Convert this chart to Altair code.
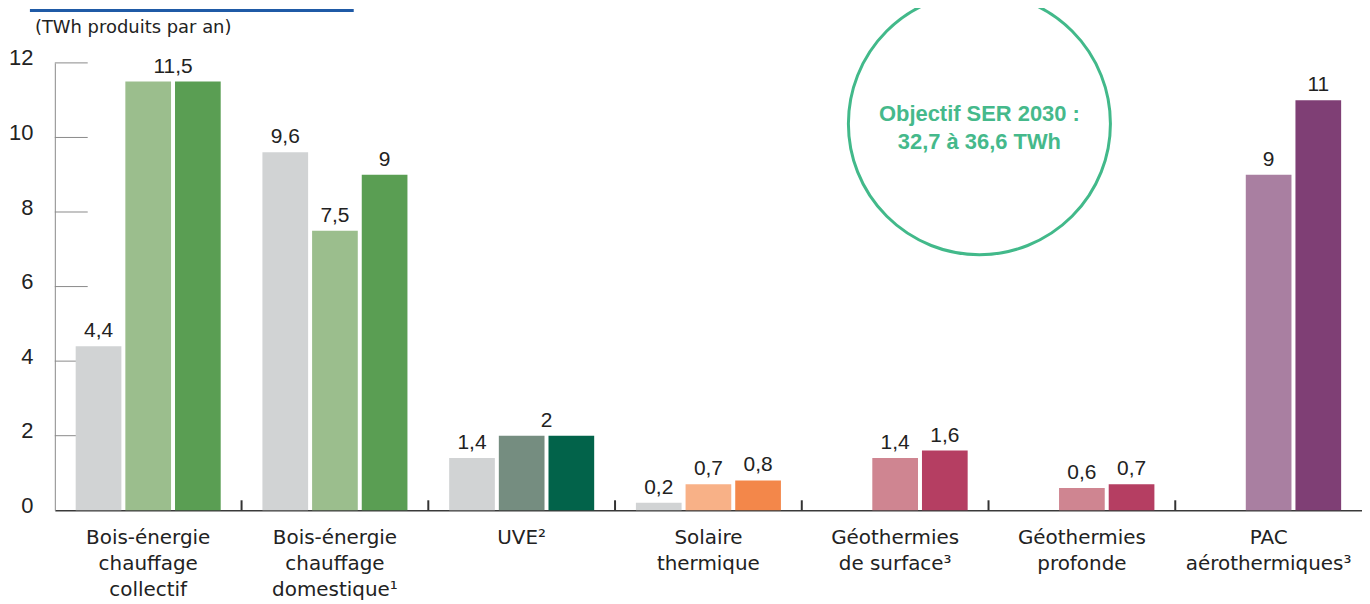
import altair as alt
import pandas as pd

# ---------------- data ----------------
categories = ["Bois collectif", "Bois domestique", "UVE", "Solaire thermique",
              "Géothermies de surface", "Géothermies profonde", "PAC aérothermiques"]
cat_labels = ["Bois-énergie\nchauffage\ncollectif", "Bois-énergie\nchauffage\ndomestique¹",
              "UVE²", "Solaire\nthermique", "Géothermies\nde surface³",
              "Géothermies\nprofonde", "PAC\naérothermiques³"]
series = ["actuel", "bas", "haut"]
v_actuel = [4.4, 9.6, 1.4, 0.2, None, None, None]
v_bas = [11.5, 7.5, 2, 0.7, 1.4, 0.6, 9]
v_haut = [11.5, 9, 2, 0.8, 1.6, 0.7, 11]
y_ticks = [0, 2, 4, 6, 8, 10, 12]
subtitle = "(TWh produits par an)"
objectif = "Objectif SER 2030 :\n32,7 à 36,6 TWh"

# ---------------- styles ----------------
grey = "#d1d3d4"
col_bas = ["#9bbe8d", "#9bbe8d", "#758d80", "#f8b187", "#cf8591", "#cf8591", "#a97fa1"]
col_haut = ["#5a9e53", "#5a9e53", "#02634a", "#f3874a", "#b53e62", "#b53e62", "#7f3f75"]
W, H = 1312, 449
NUM_FONT = "Liberation Sans"
TXT_FONT = "DejaVu Sans"


def fmt(v):
    return f"{v:g}".replace(".", ",")


rows, single_labels, merged_labels = [], [], []
color_domain, color_range = [], []
for i, c in enumerate(categories):
    vals = {"actuel": v_actuel[i], "bas": v_bas[i], "haut": v_haut[i]}
    cols = {"actuel": grey, "bas": col_bas[i], "haut": col_haut[i]}
    for s in series:
        v = vals[s]
        if v is None:
            continue
        key = f"{c}|{s}"
        rows.append({"cat": c, "series": s, "value": v, "key": key})
        color_domain.append(key)
        color_range.append(cols[s])
    if vals["actuel"] is not None:
        single_labels.append({"cat": c, "series": "actuel", "value": vals["actuel"], "txt": fmt(vals["actuel"])})
    if vals["bas"] == vals["haut"]:
        merged_labels.append({"cat": c, "value": vals["bas"], "txt": fmt(vals["bas"])})
    else:
        for s in ["bas", "haut"]:
            single_labels.append({"cat": c, "series": s, "value": vals[s], "txt": fmt(vals[s])})

df = pd.DataFrame(rows)
df_single = pd.DataFrame(single_labels)
df_merged = pd.DataFrame(merged_labels)
df_cats = pd.DataFrame({"cat": categories, "label": cat_labels})
df_sep = pd.DataFrame({"cat": categories[1:]})
df_yt = pd.DataFrame({"v": y_ticks[1:]})
df_one = pd.DataFrame({"t": [subtitle]})
df_obj = pd.DataFrame({"t": [objectif]})

x_enc = alt.X("cat:N", sort=categories,
              scale=alt.Scale(domain=categories, paddingInner=0, paddingOuter=0),
              axis=alt.Axis(labels=False, ticks=False, title=None, domainColor="#3a3a3a",
                            domainWidth=1.6, grid=False))
xo_enc = alt.XOffset("series:N", scale=alt.Scale(domain=series, paddingInner=0.08, paddingOuter=0.42))
y_scale = alt.Scale(domain=[0, 12], nice=False)

bars = alt.Chart(df).mark_bar().encode(
    x=x_enc,
    xOffset=xo_enc,
    y=alt.Y("value:Q", scale=y_scale,
            axis=alt.Axis(values=y_ticks, title=None, ticks=False, grid=False,
                          domainColor="#8a8a8a", domainWidth=1,
                          labelFont=NUM_FONT, labelFontSize=22, labelColor="#222222",
                          labelPadding=22, labelOffset=-5)),
    color=alt.Color("key:N", scale=alt.Scale(domain=color_domain, range=color_range), legend=None),
)

lab_single = alt.Chart(df_single).mark_text(
    font=NUM_FONT, fontSize=21, color="#222222", baseline="alphabetic", dy=-9
).encode(x=alt.X("cat:N", sort=categories), xOffset="series:N",
         y=alt.Y("value:Q", scale=y_scale), text="txt:N")

lab_merged = alt.Chart(df_merged).mark_text(
    font=NUM_FONT, fontSize=21, color="#222222", baseline="alphabetic", dy=-9, dx=25
).encode(x=alt.X("cat:N", sort=categories), y=alt.Y("value:Q", scale=y_scale), text="txt:N")

cat_text = alt.Chart(df_cats).mark_text(
    font=TXT_FONT, fontSize=20, color="#222222", baseline="top", lineBreak="\n", lineHeight=26
).encode(x=alt.X("cat:N", sort=categories), y=alt.value(H + 18), text="label:N")

seps = alt.Chart(df_sep).mark_rule(color="#333333", strokeWidth=2).encode(
    x=alt.X("cat:N", sort=categories, bandPosition=0), y=alt.value(H - 10), y2=alt.value(H))

yticks = alt.Chart(df_yt).mark_rule(color="#8a8a8a", strokeWidth=1).encode(
    y=alt.Y("v:Q", scale=y_scale), x=alt.value(0), x2=alt.value(33))

sub = alt.Chart(df_one).mark_text(
    font=TXT_FONT, fontSize=18, color="#222222", align="left", baseline="alphabetic"
).encode(x=alt.value(-20), y=alt.value(-30), text="t:N")

blue = alt.Chart(df_one).mark_rule(color="#1f5aa6", strokeWidth=3).encode(
    x=alt.value(-25), x2=alt.value(300), y=alt.value(-52.5))

circle = alt.Chart(df_obj).mark_point(
    shape="circle", filled=False, size=263 * 263, strokeWidth=3, color="#42b98a", opacity=1
).encode(x=alt.value(928), y=alt.value(61))

obj_text = alt.Chart(df_obj).mark_text(
    font=NUM_FONT, fontSize=22, fontWeight="bold", color="#45b98b",
    baseline="middle", lineBreak="\n", lineHeight=28
).encode(x=alt.value(928), y=alt.value(51), text="t:N")

chart = alt.layer(
    yticks, bars, lab_single, lab_merged, seps, cat_text, sub, blue, circle, obj_text
).properties(
    width=W, height=H,
    autosize=alt.AutoSizeParams(type="none"),
    padding={"left": 47, "top": 54, "right": 0, "bottom": 93},
).configure_view(stroke=None)

chart.save("out.html", embed_options={"renderer": "svg", "actions": False})
